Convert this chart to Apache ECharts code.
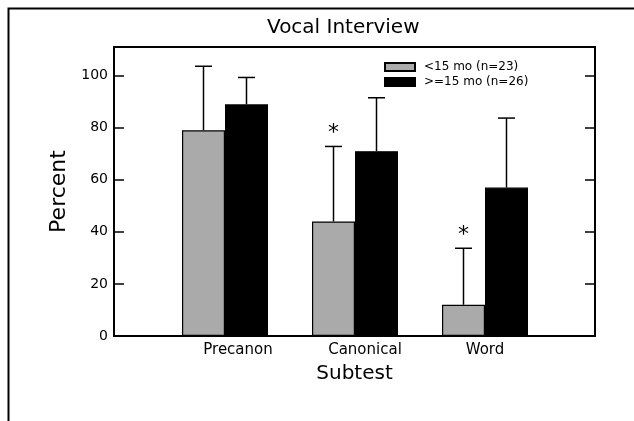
<!DOCTYPE html>
<html>
<head>
<meta charset="utf-8">
<script src="https://cdn.jsdelivr.net/npm/echarts@6/dist/echarts.min.js"></script>
<style>
  html, body { margin: 0; padding: 0; background: #fff; }
  #chart { width: 634px; height: 421px; }
</style>
</head>
<body>
<div id="chart"></div>
<script>
const categories = ["Precanon", "Canonical", "Word"];
const youngValues = [79, 44, 12];
const youngErrTop = [103.6, 72.8, 33.7];
const youngStars = [false, true, true];
const oldValues = [89, 71, 57];
const oldErrTop = [99.3, 91.5, 83.7];
const yTicks = [0, 20, 40, 60, 80, 100];
const seriesNames = ["<15 mo (n=23)", ">=15 mo (n=26)"];

const font = "DejaVu Sans";
const barWidth = 43;
// the original labels sit a little right of the bar pairs
const labelShift = [26, 20, 0];

const chart = echarts.init(document.getElementById("chart"));

// error bar (upward only) plus optional significance star
const errRender = (offset) => (params, api) => {
  const base = api.coord([api.value(0), api.value(1)]);
  const top = api.coord([api.value(0), api.value(2)]);
  const x = base[0] + offset;
  const children = [
    { type: "line", shape: { x1: x, y1: base[1], x2: x, y2: top[1] }, style: { stroke: "#000", lineWidth: 1.5 } },
    { type: "line", shape: { x1: x - 8.5, y1: top[1], x2: x + 8.5, y2: top[1] }, style: { stroke: "#000", lineWidth: 1.5 } },
  ];
  if (api.value(3)) {
    children.push({
      type: "text",
      style: { text: "*", x: x, y: top[1] - 13, align: "center", verticalAlign: "middle", font: "22px " + font, fill: "#000" },
    });
  }
  return { type: "group", children };
};

chart.setOption({
  animation: false,
  title: {
    text: "Vocal Interview",
    left: 267,
    top: 18,
    padding: 0,
    textStyle: { fontFamily: font, fontSize: 20, fontWeight: "normal", color: "#000" },
  },
  graphic: [
    { type: "rect", left: 6, top: 6, shape: { width: 700, height: 500 }, style: { fill: "none", stroke: "#000", lineWidth: 2 } },
  ],
  legend: {
    orient: "vertical",
    left: 384,
    top: 60,
    padding: 0,
    icon: "rect",
    itemWidth: 30,
    itemHeight: 8,
    itemGap: 1,
    data: seriesNames,
    textStyle: { fontFamily: font, fontSize: 12, lineHeight: 14, color: "#000", padding: [0, 0, 0, 4] },
  },
  grid: [
    { left: 114, right: 39, top: 47, bottom: 85, show: true, borderColor: "#000", borderWidth: 2 },
    { left: 160, width: 390, top: 47, bottom: 85 },
  ],
  xAxis: [
    {
      gridIndex: 0, type: "value", min: 0, max: 1,
      axisLine: { show: false }, axisTick: { show: false }, axisLabel: { show: false }, splitLine: { show: false },
      name: "Subtest", nameLocation: "middle", nameGap: 28,
      nameTextStyle: { fontFamily: font, fontSize: 20, color: "#000" },
    },
    {
      gridIndex: 1, type: "category",
      data: categories.map((c, i) => ({ value: c, textStyle: { padding: [0, 0, 0, labelShift[i]] } })),
      axisLine: { show: false }, axisTick: { show: false },
      axisLabel: { fontFamily: font, fontSize: 15, color: "#000", margin: 7 },
    },
  ],
  yAxis: [
    {
      gridIndex: 0, type: "value", min: 0, max: 111, interval: 20,
      axisLine: { show: true, lineStyle: { color: "#000", width: 2 } },
      axisTick: { show: true, inside: true, length: 10, lineStyle: { color: "#000", width: 1.5 } },
      axisLabel: { fontFamily: font, fontSize: 14, color: "#000", margin: 6, showMaxLabel: false,
        formatter: (v) => (yTicks.includes(v) ? String(v) : "") },
      splitLine: { show: false },
      name: "Percent", nameLocation: "middle", nameGap: 43,
      nameTextStyle: { fontFamily: font, fontSize: 22, color: "#000" },
    },
    {
      gridIndex: 0, type: "value", min: 0, max: 111, interval: 20, position: "right",
      axisLine: { show: true, lineStyle: { color: "#000", width: 2 } },
      axisTick: { show: true, inside: true, length: 10, lineStyle: { color: "#000", width: 1.5 } },
      axisLabel: { show: false }, splitLine: { show: false },
    },
    { gridIndex: 1, type: "value", min: 0, max: 111, show: false },
  ],
  series: [
    {
      name: seriesNames[0], type: "bar", xAxisIndex: 1, yAxisIndex: 2,
      barWidth: barWidth, barGap: "0%",
      itemStyle: { color: "#aaaaaa", borderColor: "#000", borderWidth: 1.2 },
      data: youngValues,
    },
    {
      name: seriesNames[1], type: "bar", xAxisIndex: 1, yAxisIndex: 2,
      barWidth: barWidth, barGap: "0%",
      itemStyle: { color: "#000", borderColor: "#000", borderWidth: 1.2 },
      data: oldValues,
    },
    {
      type: "custom", xAxisIndex: 1, yAxisIndex: 2, z: 5,
      renderItem: errRender(-barWidth / 2),
      data: categories.map((c, i) => [i, youngValues[i], youngErrTop[i], youngStars[i] ? 1 : 0]),
    },
    {
      type: "custom", xAxisIndex: 1, yAxisIndex: 2, z: 5,
      renderItem: errRender(barWidth / 2),
      data: categories.map((c, i) => [i, oldValues[i], oldErrTop[i], 0]),
    },
  ],
});
</script>
</body>
</html>
